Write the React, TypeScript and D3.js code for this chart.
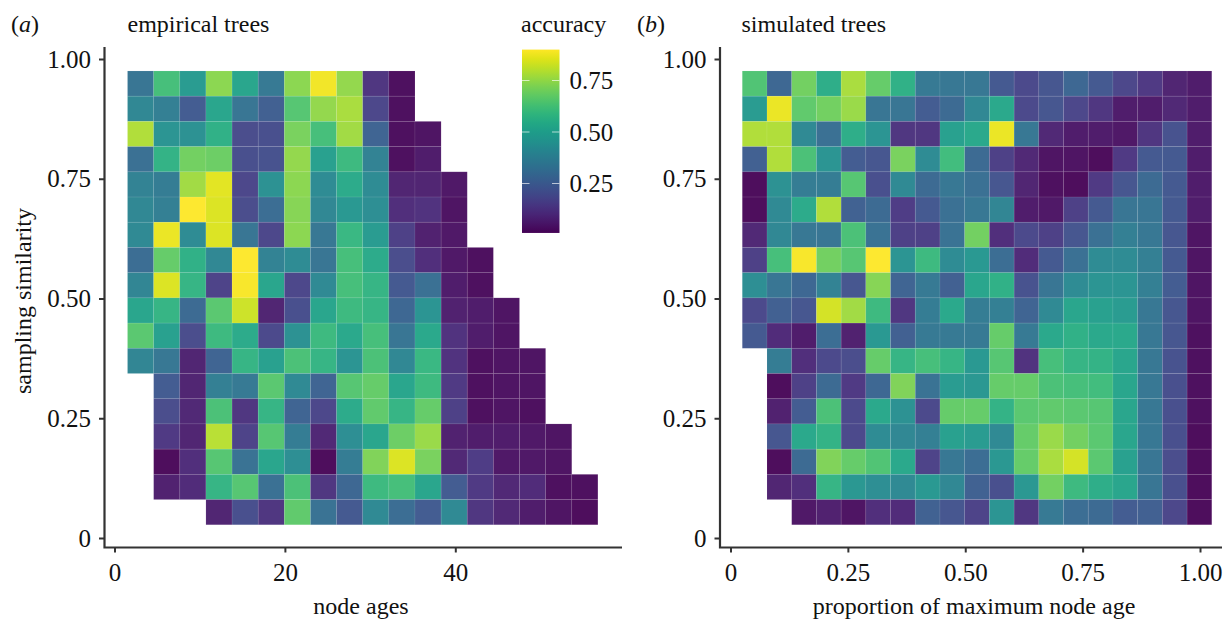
import { useRef, useEffect } from 'react'
import * as d3 from 'd3'

const _ = null

// accuracy per cell, rows listed from the top of the panel down
const empiricalRows = [
  [.33, .62, .48, .74, .52, .35, .74, .88, .75, .12, .02, _, _, _, _, _, _, _],
  [.40, .37, .24, .52, .33, .25, .65, .75, .78, .17, .02, _, _, _, _, _, _, _],
  [.79, .45, .44, .56, .19, .20, .71, .62, .77, .27, .02, .03, _, _, _, _, _, _],
  [.31, .57, .70, .69, .20, .21, .75, .50, .60, .38, .02, .05, _, _, _, _, _, _],
  [.38, .36, .77, .86, .17, .44, .74, .42, .54, .42, .07, .07, .04, _, _, _, _, _],
  [.40, .37, .90, .85, .19, .30, .73, .40, .47, .43, .10, .11, .03, _, _, _, _, _],
  [.41, .87, .42, .85, .33, .17, .74, .34, .59, .48, .15, .06, .04, _, _, _, _, _],
  [.30, .68, .56, .40, .90, .38, .42, .33, .62, .54, .19, .10, .04, .02, _, _, _, _],
  [.39, .85, .58, .16, .89, .52, .17, .41, .62, .58, .23, .31, .05, .02, _, _, _, _],
  [.52, .58, .29, .66, .83, .07, .20, .52, .60, .58, .28, .45, .06, .05, .03, _, _, _],
  [.66, .50, .19, .60, .54, .18, .44, .60, .53, .62, .33, .53, .11, .05, .03, _, _, _],
  [.39, .34, .07, .27, .58, .50, .63, .58, .45, .63, .40, .59, .11, .02, .03, .03, _, _],
  [_, .24, .07, .37, .35, .66, .41, .27, .65, .68, .52, .60, .13, .02, .03, .03, _, _],
  [_, .19, .08, .63, .12, .58, .27, .17, .54, .67, .58, .68, .15, .02, .03, .02, _, _],
  [_, .13, .07, .80, .16, .65, .36, .08, .43, .52, .69, .76, .06, .05, .05, .04, .03, _],
  [_, .01, .10, .65, .32, .52, .43, .01, .36, .72, .85, .71, .08, .14, .04, .04, .03, _],
  [_, .06, .09, .58, .65, .31, .63, .12, .28, .60, .62, .52, .24, .13, .08, .09, .02, .02],
  [_, _, _, .07, .20, .12, .67, .32, .23, .41, .30, .24, .41, .12, .08, .05, .03, .01],
]

const simulatedRows = [
  [.64, .28, .70, .55, .78, .68, .56, .35, .34, .34, .23, .18, .22, .28, .23, .17, .13, .07, .05],
  [.48, .87, .67, .70, .76, .33, .33, .24, .29, .40, .53, .18, .22, .17, .12, .05, .05, .08, .05],
  [.79, .79, .41, .31, .55, .45, .12, .12, .50, .53, .87, .34, .08, .05, .05, .04, .12, .21, .05],
  [.25, .79, .63, .45, .24, .22, .71, .42, .61, .29, .15, .08, .03, .03, .01, .13, .23, .23, .05],
  [.01, .44, .36, .36, .65, .20, .41, .29, .34, .31, .22, .07, .02, .01, .13, .22, .29, .23, .05],
  [.01, .41, .54, .79, .26, .29, .14, .23, .31, .34, .39, .05, .04, .15, .23, .33, .33, .23, .05],
  [.08, .40, .34, .33, .63, .32, .15, .15, .32, .70, .10, .18, .15, .22, .31, .37, .34, .22, .03],
  [.15, .62, .89, .70, .65, .90, .45, .60, .42, .47, .30, .09, .23, .31, .42, .42, .37, .23, .03],
  [.43, .33, .28, .38, .22, .73, .27, .35, .25, .52, .56, .21, .33, .42, .45, .45, .37, .24, .03],
  [.18, .25, .22, .84, .77, .60, .12, .36, .53, .36, .37, .27, .41, .52, .50, .48, .34, .22, .03],
  [.23, .09, .05, .30, .06, .47, .25, .35, .35, .35, .68, .35, .53, .56, .53, .53, .34, .22, .02],
  [_, .36, .10, .18, .19, .68, .58, .62, .58, .47, .65, .11, .62, .58, .57, .52, .34, .21, .02],
  [_, .01, .15, .29, .13, .28, .72, .32, .48, .46, .68, .68, .63, .62, .61, .52, .34, .20, .02],
  [_, .06, .24, .63, .18, .53, .44, .18, .68, .68, .57, .66, .67, .66, .65, .52, .34, .20, .02],
  [_, .22, .53, .57, .18, .42, .40, .37, .50, .48, .41, .68, .76, .70, .66, .52, .34, .20, .01],
  [_, .01, .29, .72, .68, .64, .53, .16, .34, .30, .46, .68, .78, .84, .66, .50, .33, .19, .01],
  [_, .07, .10, .58, .46, .43, .41, .47, .40, .26, .20, .46, .70, .60, .55, .52, .33, .20, .01],
  [_, _, .04, .06, .03, .10, .09, .26, .22, .16, .45, .12, .35, .30, .29, .24, .25, .17, .01],
]

const empiricalTicks = [0, 20, 40]
const simulatedTicks = [0, 0.25, 0.5, 0.75, 1]
const similarityTicks = [0, 0.25, 0.5, 0.75, 1]
const accuracyTicks = [0.25, 0.5, 0.75]
const accuracyRange = [0.01, 0.9]

const fmt = (d: number) => (d === 0 ? '0' : d3.format('.2f')(d))
const serif = '"Liberation Serif", serif'

const App = () => {
  const svgRef = useRef<SVGSVGElement>(null)

  useEffect(() => {
    const svg = d3.select(svgRef.current)
    svg.selectAll('*').remove()
    svg.style('font-family', serif)

    const color = d3.scaleSequential(d3.interpolateViridis).domain(accuracyRange)
    const y = d3.scaleLinear().domain([0, 1]).range([538, 59])
    const rowSize = 1 / 19
    const rowTop = (i: number) => 0.975 - i * rowSize

    const panel = (opts: any) => {
      const { rows, x, binStart, binSize, ticks, tickFmt, axisX, axisEnd, label, labelX } = opts
      const g = svg.append('g')

      // cells
      rows.forEach((row: (number | null)[], r: number) => {
        row.forEach((v, c) => {
          if (v === null) return
          const x0 = x(binStart + c * binSize)
          const x1 = x(binStart + (c + 1) * binSize)
          g.append('rect')
            .attr('x', x0)
            .attr('y', y(rowTop(r)))
            .attr('width', x1 - x0)
            .attr('height', y(rowTop(r + 1)) - y(rowTop(r)))
            .attr('fill', color(v))
            .attr('fill-opacity', 0.95)
            .attr('stroke', '#fff')
            .attr('stroke-opacity', 0.09)
            .attr('stroke-width', 0.8)
        })
      })

      // axes
      const bottom = g.append('g')
        .attr('transform', 'translate(0,547.5)')
        .call(d3.axisBottom(x).tickValues(ticks).tickFormat(tickFmt).tickSize(5).tickPadding(11))
      const left = g.append('g')
        .attr('transform', `translate(${axisX},0)`)
        .call(d3.axisLeft(y).tickValues(similarityTicks).tickFormat(fmt).tickSize(5.5).tickPadding(8))

      bottom.select('.domain').remove()
      left.select('.domain').remove()
      g.append('path')
        .attr('d', `M${axisX},47V547.5H${axisEnd}`)
        .attr('fill', 'none')
        .attr('stroke', '#333')
        .attr('stroke-width', 2.2)
      g.selectAll('.tick line').attr('stroke', '#333').attr('stroke-width', 2)
      g.selectAll('.tick text').attr('fill', '#111').style('font-family', serif).style('font-size', '25px')

      g.append('text')
        .attr('x', labelX)
        .attr('y', 613.5)
        .attr('text-anchor', 'middle')
        .attr('fill', '#111')
        .style('font-size', '24px')
        .text(label)
    }

    panel({
      rows: empiricalRows,
      x: d3.scaleLinear().domain([0, 60]).range([114.5, 114.5 + 60 * 8.52]),
      binStart: 1.53,
      binSize: 3.067,
      ticks: empiricalTicks,
      tickFmt: (d: number) => String(d),
      axisX: 104.5,
      axisEnd: 622,
      label: 'node ages',
      labelX: 361,
    })
    panel({
      rows: simulatedRows,
      x: d3.scaleLinear().domain([0, 1]).range([730.5, 1200]),
      binStart: 0.0251,
      binSize: 1 / 19,
      ticks: simulatedTicks,
      tickFmt: fmt,
      axisX: 720,
      axisEnd: 1222,
      label: 'proportion of maximum node age',
      labelX: 974,
    })

    // y label
    svg.append('text')
      .attr('transform', 'translate(31,301) rotate(-90)')
      .attr('text-anchor', 'middle')
      .attr('fill', '#111')
      .style('font-size', '24px')
      .text('sampling similarity')

    // titles
    const title = (x: number, t: string) =>
      svg.append('text').attr('x', x).attr('y', 32).attr('fill', '#111').style('font-size', '24px').text(t)
    title(127.5, 'empirical trees')
    title(741.5, 'simulated trees')
    title(521, 'accuracy')

    const letter = (x: number, t: string) => {
      const el = svg.append('text').attr('x', x).attr('y', 32).attr('fill', '#111').style('font-size', '24px')
      el.append('tspan').text('(')
      el.append('tspan').style('font-style', 'italic').text(t)
      el.append('tspan').text(')')
    }
    letter(11, 'a')
    letter(637, 'b')

    // colour bar
    const barX = 522
    const barW = 37.5
    const barY = d3.scaleLinear().domain([0, 0.25]).range([235, 183.5])
    const defs = svg.append('defs')
    const grad = defs.append('linearGradient')
      .attr('id', 'accuracy-bar')
      .attr('x1', 0).attr('x2', 0).attr('y1', 1).attr('y2', 0)
    d3.range(0, 1.001, 0.05).forEach(t => {
      grad.append('stop')
        .attr('offset', t)
        .attr('stop-color', d3.interpolateViridis(t))
    })
    svg.append('rect')
      .attr('x', barX)
      .attr('y', barY(accuracyRange[1]))
      .attr('width', barW)
      .attr('height', barY(accuracyRange[0]) - barY(accuracyRange[1]))
      .attr('fill', 'url(#accuracy-bar)')

    accuracyTicks.forEach(t => {
      svg.append('path')
        .attr('d', `M${barX},${barY(t)}h7.5M${barX + barW - 7.5},${barY(t)}h7.5`)
        .attr('stroke', '#fff')
        .attr('stroke-opacity', 0.65)
        .attr('stroke-width', 1.2)
      svg.append('text')
        .attr('x', barX + barW + 10)
        .attr('y', barY(t))
        .attr('dy', '0.34em')
        .attr('fill', '#111')
        .style('font-size', '25px')
        .text(fmt(t))
    })
  }, [])

  return (
    <svg
      ref={svgRef}
      width={1228}
      height={619}
      style={{ position: 'absolute', left: 0, top: 0, background: '#fff' }}
    ></svg>
  )
}
export default App
